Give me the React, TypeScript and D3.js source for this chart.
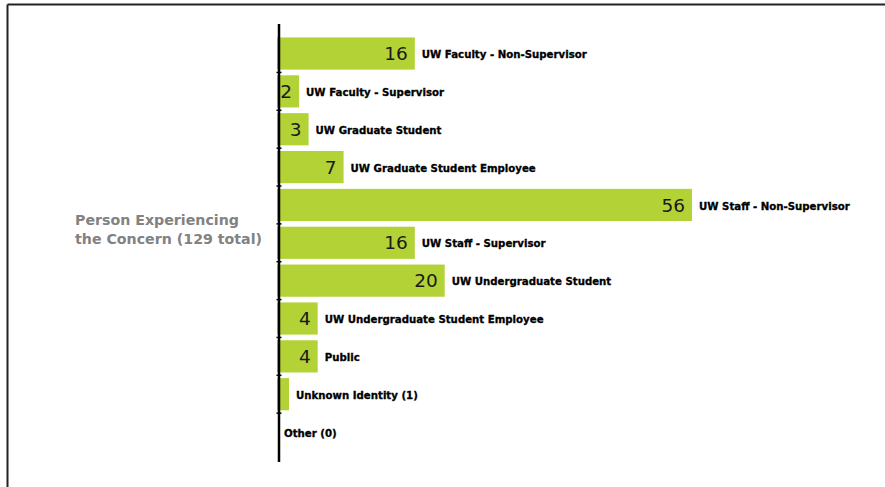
import React from "react";
import * as d3 from "d3";

const categories: string[] = [
  "UW Faculty - Non-Supervisor",
  "UW Faculty - Supervisor",
  "UW Graduate Student",
  "UW Graduate Student Employee",
  "UW Staff - Non-Supervisor",
  "UW Staff - Supervisor",
  "UW Undergraduate Student",
  "UW Undergraduate Student Employee",
  "Public",
  "Unknown Identity (1)",
  "Other (0)",
];
const counts: number[] = [16, 2, 3, 7, 56, 16, 20, 4, 4, 1, 0];
const titleLines: string[] = ["Person Experiencing", "the Concern (129 total)"];

const W = 885;
const H = 487;
const X0 = 277;
const BAR = "#b3d235";

export default function App() {
  const x = d3
    .scalePow()
    .exponent(0.88)
    .domain([0, 56])
    .range([X0, 692]);
  const y = d3
    .scaleBand<string>()
    .domain(categories)
    .range([34.6, 451])
    .paddingInner(0.15)
    .paddingOuter(0.075);
  const step = y.step();
  const bw = y.bandwidth();

  const boundaries = categories.slice(1).map((c) => (y(c) as number) - (step - bw) / 2);

  return (
    <svg
      width={W}
      height={H}
      style={{ position: "fixed", left: 0, top: 0, background: "#fff" }}
    >
      <rect x={0} y={0} width={W} height={H} fill="#fff" />
      {/* frame */}
      <line x1={7.5} y1={4.5} x2={W} y2={4.5} stroke="#222" strokeWidth={2} />
      <line x1={7.5} y1={4.5} x2={7.5} y2={H} stroke="#222" strokeWidth={2} />

      {/* title */}
      <text
        x={75}
        y={225}
        fontFamily="DejaVu Sans"
        fontWeight="bold"
        fontSize={14.2}
        fill="#828282"
      >
        {titleLines.map((t, i) => (
          <tspan key={i} x={75} dy={i === 0 ? 0 : 19}>
            {t}
          </tspan>
        ))}
      </text>

      {/* bars */}
      {categories.map((c, i) => {
        const v = counts[i];
        const yy = y(c) as number;
        const end = x(v);
        const cy = yy + bw / 2;
        return (
          <g key={c}>
            {v > 0 && (
              <rect x={X0} y={yy} width={end - X0} height={bw} fill={BAR} />
            )}
            {v >= 2 && (
              <text
                x={end - 7}
                y={cy}
                dy="0.36em"
                textAnchor="end"
                fontFamily="DejaVu Sans"
                fontSize={18.5}
                fill="#1a1a1a"
              >
                {v}
              </text>
            )}
            <text
              x={end + 7}
              y={cy + 1}
              dy="0.35em"
              fontFamily="DejaVu Sans"
              fontWeight="bold"
              fontSize={10.2}
              fill="#000"
              stroke="#000"
              strokeWidth={0.3}
            >
              {c}
            </text>
          </g>
        );
      })}

      {/* axis */}
      <line x1={279} y1={24} x2={279} y2={462} stroke="#000" strokeWidth={2.5} />
      {boundaries.map((b, i) => (
        <line key={i} x1={276.5} y1={b} x2={281.5} y2={b} stroke="#000" strokeWidth={1.5} />
      ))}
    </svg>
  );
}
